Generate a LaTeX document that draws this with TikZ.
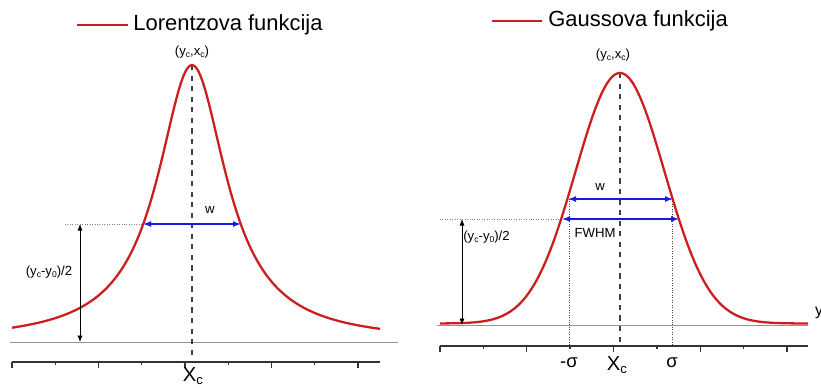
\documentclass[tikz,border=0pt]{standalone}
\usepackage{fontspec}
\setmainfont{Liberation Sans}
\usepackage{graphicx}
\usetikzlibrary{arrows.meta}
\definecolor{curvered}{RGB}{205,30,30}
\definecolor{wblue}{RGB}{25,25,230}
\definecolor{basegray}{RGB}{150,150,150}
\newcommand{\lo}[1]{\raisebox{-0.35ex}{\scalebox{0.65}{#1}}}

\begin{document}
\begin{tikzpicture}[
    x=0.02cm, y=-0.02cm,
    curve/.style={draw=curvered, line width=1.3pt},
    base/.style={draw=basegray, line width=0.5pt},
    guide/.style={draw=gray, densely dotted, line width=0.4pt},
    midline/.style={draw=black!75, dashed, line width=0.8pt},
    wid/.style={draw=wblue, line width=0.8pt, {Latex[length=1.6mm,width=1.2mm]}-{Latex[length=1.6mm,width=1.2mm]}},
    halfarrow/.style={draw=black, line width=0.4pt, {Latex[length=1.3mm,width=1mm]}-{Latex[length=1.3mm,width=1mm]}},
    xaxis/.style={draw=black!80, line width=0.8pt},
    legend/.style={font=\fontsize{12.5}{14}\selectfont, anchor=west, inner sep=0pt},
    lbl/.style={font=\fontsize{7.5}{9}\selectfont, inner sep=1pt},
    ticklbl/.style={font=\fontsize{10.5}{12}\selectfont, inner sep=1pt}
]
\useasboundingbox (0,0) rectangle (821,387);

% Lorentzova funkcija
\draw[curve, line width=1.5pt] (77,25) -- (128,25);
\node[legend] (ltitle) at (133,25) {Lorentzova funkcija};

\coordinate (lpeak) at (192,65);
\coordinate (lmid) at (192,355);
\coordinate (lwl) at (143,224);
\coordinate (lwr) at (241,224);
\coordinate (lgl) at (65,224);
\coordinate (lhtop) at (80,224);
\coordinate (lhbot) at (80,342);

\draw[base] (10,342) -- (398,342);
\draw[guide] (lgl) -- (lwl);
\draw[midline] (lpeak) -- (lmid);
\draw[curve] plot[domain=12:380, samples=160, smooth] (\x, {342 - 277/(1+((\x-192)/42)^2)});
\draw[wid] (lwl) -- (lwr);
\draw[halfarrow] (lhtop) -- (lhbot);

\node[lbl] (lpeaklbl) at (192,52) {(y\lo{c},x\lo{c})};
\node[lbl] (lw) at (210,210) {w};
\node[lbl] (lhalf) at (49,272) {(y\lo{c}-y\lo{0})/2};

\draw[xaxis] (12,362) -- (380,362);
\foreach \i in {0,...,4}
    \draw[xaxis] ({12+86.5*\i},362) -- ++(0,6);
\foreach \i in {0,...,3}
    \draw[xaxis] ({55.25+86.5*\i},362) -- ++(0,3);
\node[ticklbl, font=\fontsize{11.5}{12}\selectfont] (lxc) at (193,376) {X\lo{c}};

% Gaussova funkcija
\draw[curve, line width=1.5pt] (492,21) -- (542,21);
\node[legend] (rtitle) at (548,21) {Gaussova funkcija};

\coordinate (rpeak) at (620,73);
\coordinate (rmid) at (620,344);
\coordinate (rwl) at (568,199);
\coordinate (rwr) at (673,199);
\coordinate (rfl) at (562,219);
\coordinate (rfr) at (679,219);
\coordinate (rgl) at (440,219);
\coordinate (rhtop) at (462,219);
\coordinate (rhbot) at (462,325);
\coordinate (rsl) at (569,199);
\coordinate (rsr) at (672,199);
\coordinate (rslb) at (569,346);
\coordinate (rsrb) at (672,346);

\draw[base] (437,325) -- (808,325);
\draw[guide] (rgl) -- (rfl);
\draw[guide, draw=black!70] (rsl) -- (rslb);
\draw[guide, draw=black!70] (rsr) -- (rsrb);
\draw[midline] (rpeak) -- (rmid);
\draw[curve] plot[domain=440:808, samples=160, smooth] (\x, {323.5 - 250.5*exp(-0.5*((\x-620)/44.5)^2)});
\draw[wid] (rwl) -- (rwr);
\draw[wid] (rfl) -- (rfr);
\draw[halfarrow] (rhtop) -- (rhbot);

\node[lbl] (rpeaklbl) at (613,55) {(y\lo{c},x\lo{c})};
\node[lbl] (rw) at (600,187) {w};
\node[lbl] (rfwhm) at (595,233) {FWHM};
\node[lbl, anchor=west, inner sep=0pt] (rhalf) at (463,237) {(y\lo{c}-y\lo{0})/2};
\node[lbl, anchor=west, font=\fontsize{9}{10}\selectfont] (ry) at (813,313) {y};

\draw[xaxis] (440,346) -- (808,346);
\foreach \i in {0,...,4}
    \draw[xaxis] ({440+86.75*\i},346) -- ++(0,6);
\foreach \i in {0,...,3}
    \draw[xaxis] ({483.4+86.75*\i},346) -- ++(0,3);
\node[ticklbl] (rms) at (569,363) {-σ};
\node[ticklbl, font=\fontsize{11.5}{12}\selectfont] (rxc) at (617,365) {X\lo{c}};
\node[ticklbl] (rs) at (672,363) {σ};
\end{tikzpicture}
\end{document}
